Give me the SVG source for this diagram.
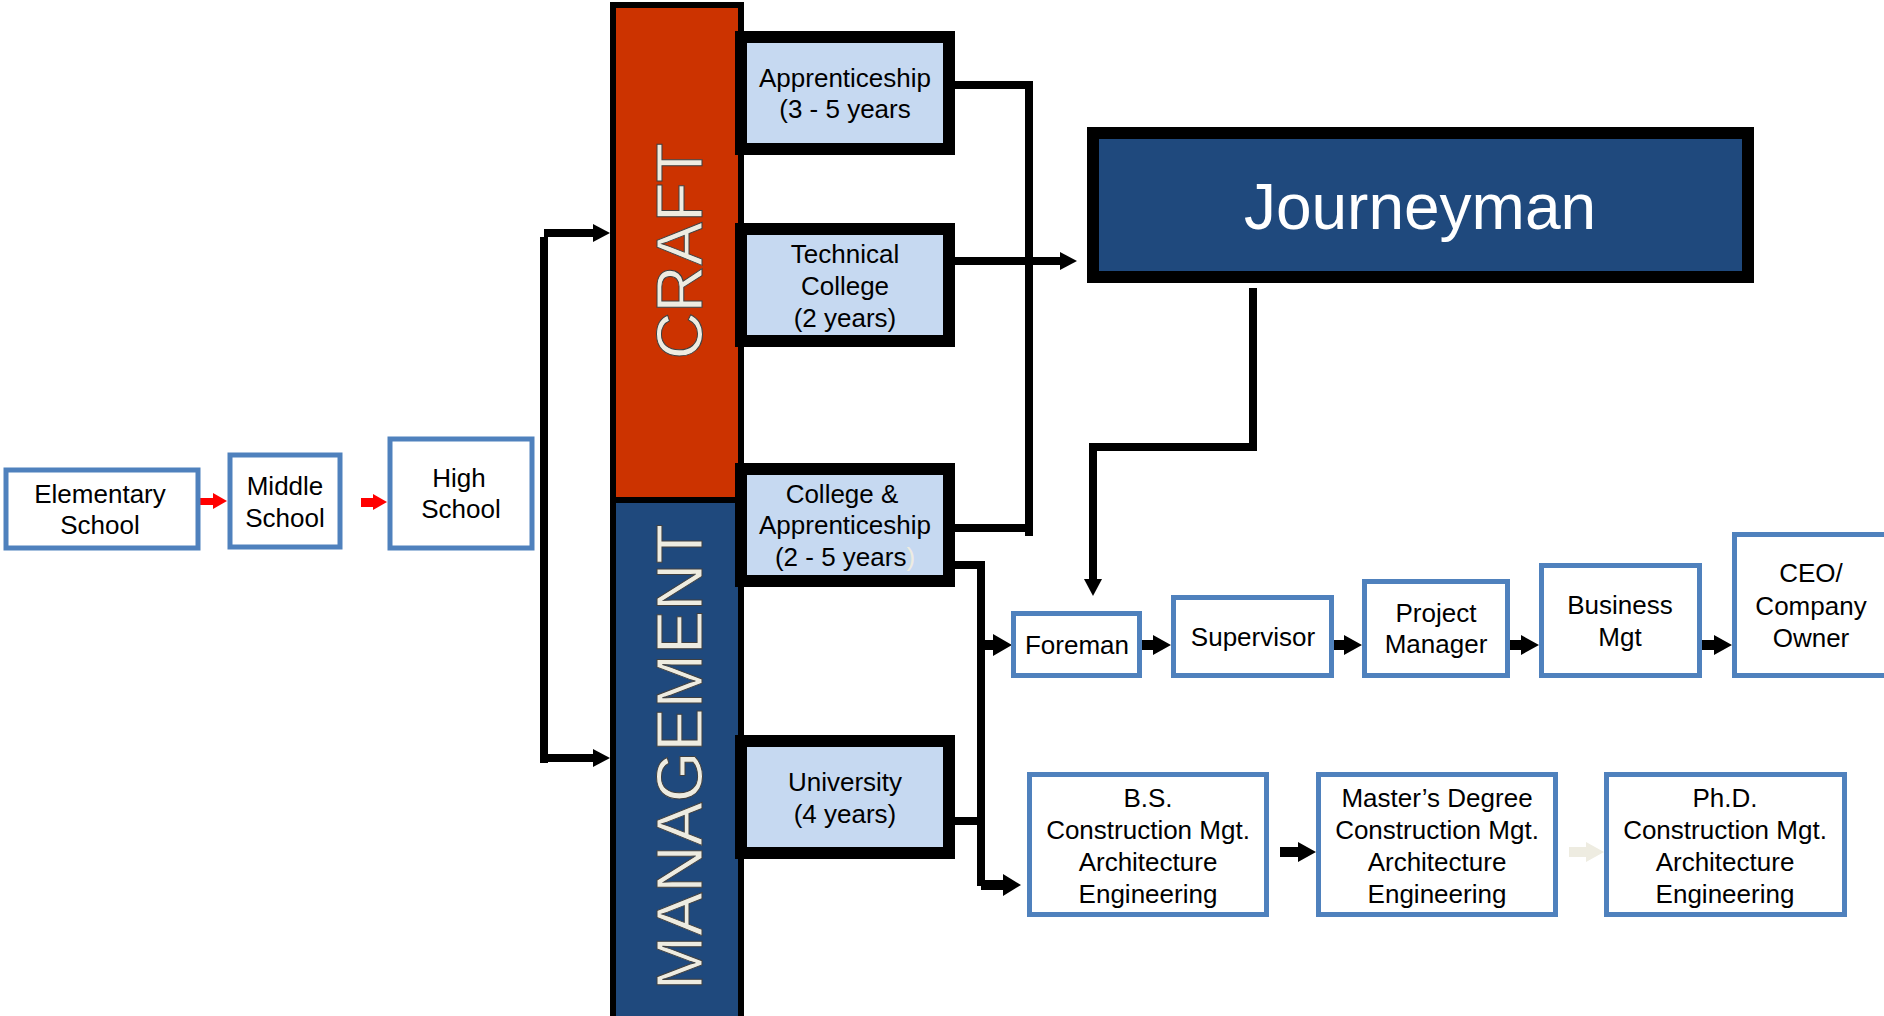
<svg xmlns="http://www.w3.org/2000/svg" width="1884" height="1016" viewBox="0 0 1884 1016">
<style>
text{font-family:"Liberation Sans",Arial,sans-serif;text-anchor:middle}
.t{font-size:26px;fill:#000}
.wb{fill:#fff;stroke:#4F81BD;stroke-width:5}
.lb{fill:#C6D9F1;stroke:#000;stroke-width:12}
.bar{stroke:#000;stroke-width:6}
.big{font-size:65px;fill:#EEECE1;stroke:#404040;stroke-width:1}
.ln{fill:none;stroke:#000;stroke-width:8}
.ah{fill:#000}
</style>
<rect width="1884" height="1016" fill="#fff"/>
<g id="connectors">
  <polygon fill="#FF0000" points="193,498 213,498 213,493 227,501 213,509 213,505 193,505"/>
  <polygon fill="#FF0000" points="361,498 373,498 373,494 387,502 373,510 373,507 361,507"/>
  <path class="ln" d="M544 237V763" stroke-width="10"/>
  <path class="ln" d="M544 233H594M544 758H594"/>
  <polygon class="ah" points="593,224 610,233 593,242"/>
  <polygon class="ah" points="593,749 610,758 593,767"/>
  <path class="ln" d="M955 85H1029V536M955 528H1033" stroke-width="9"/>
  <path class="ln" d="M955 261H1062"/>
  <polygon class="ah" points="1060,252 1077,261 1060,270"/>
  <path class="ln" d="M1253 288V447H1093V582"/>
  <polygon class="ah" points="1084,579 1093,596 1102,579"/>
  <path class="ln" d="M955 565H981V886M955 821H985"/>
  <polygon class="ah" points="977,640 993,640 993,634 1012,645 993,656 993,650 977,650"/>
  <polygon class="ah" points="981,880 1003,880 1003,874 1021,885 1003,896 1003,890 981,890"/>
  <polygon class="ah" points="1140,640 1153,640 1153,635 1171,645 1153,655 1153,650 1140,650"/>
  <polygon class="ah" points="1332,640 1344,640 1344,635 1362,645 1344,655 1344,650 1332,650"/>
  <polygon class="ah" points="1508,640 1521,640 1521,635 1539,645 1521,655 1521,650 1508,650"/>
  <polygon class="ah" points="1700,640 1714,640 1714,635 1732,645 1714,655 1714,650 1700,650"/>
  <polygon class="ah" points="1280,847 1298,847 1298,842 1316,852 1298,862 1298,857 1280,857"/>
  <polygon fill="#EEECE1" points="1569,847 1586,847 1586,842 1604,852 1586,862 1586,857 1569,857"/>
</g>
<g id="elementary"><rect class="wb" x="6" y="470" width="192" height="78"/><text class="t" x="100" y="503">Elementary</text><text class="t" x="100" y="534">School</text></g>
<g id="middle"><rect class="wb" x="230" y="455" width="110" height="92"/><text class="t" x="285" y="495">Middle</text><text class="t" x="285" y="527">School</text></g>
<g id="high"><rect class="wb" x="390" y="439" width="142" height="109"/><text class="t" x="459" y="487">High</text><text class="t" x="461" y="518">School</text></g>
<g id="craft"><rect class="bar" x="613" y="5" width="128" height="495" fill="#CC3300"/><text class="big" transform="translate(702,251) rotate(-90)">CRAFT</text></g>
<g id="management"><rect class="bar" x="613" y="500" width="128" height="530" fill="#1F497D"/><text class="big" transform="translate(702,757) rotate(-90)">MANAGEMENT</text></g>
<g id="apprenticeship"><rect class="lb" x="741" y="37" width="208" height="112"/><text class="t" x="845" y="87">Apprenticeship</text><text class="t" x="845" y="118">(3 - 5 years</text></g>
<g id="technical"><rect class="lb" x="741" y="229" width="208" height="112"/><text class="t" x="845" y="263">Technical</text><text class="t" x="845" y="295">College</text><text class="t" x="845" y="327">(2 years)</text></g>
<g id="college-app"><rect class="lb" x="741" y="469" width="208" height="112"/><text class="t" x="842" y="503">College &amp;</text><text class="t" x="845" y="534">Apprenticeship</text><text class="t" x="845" y="566">(2 - 5 years<tspan fill="#EEECE1">)</tspan></text></g>
<g id="university"><rect class="lb" x="741" y="741" width="208" height="112"/><text class="t" x="845" y="791">University</text><text class="t" x="845" y="823">(4 years)</text></g>
<g id="journeyman"><rect x="1093" y="133" width="655" height="144" fill="#1F497D" stroke="#000" stroke-width="12"/><text x="1420" y="229" font-size="64" fill="#fff">Journeyman</text></g>
<g id="foreman"><rect class="wb" x="1013.5" y="613.5" width="126" height="62"/><text class="t" x="1077" y="654">Foreman</text></g>
<g id="supervisor"><rect class="wb" x="1173.5" y="597.5" width="158" height="78"/><text class="t" x="1253" y="646">Supervisor</text></g>
<g id="pm"><rect class="wb" x="1364.5" y="581.5" width="143" height="94"/><text class="t" x="1436" y="622">Project</text><text class="t" x="1436" y="653">Manager</text></g>
<g id="business"><rect class="wb" x="1541.5" y="565.5" width="158" height="110"/><text class="t" x="1620" y="614">Business</text><text class="t" x="1620" y="646">Mgt</text></g>
<g id="ceo"><rect class="wb" x="1734.5" y="534.5" width="200" height="141"/><text class="t" x="1811" y="582">CEO/</text><text class="t" x="1811" y="615">Company</text><text class="t" x="1811" y="647">Owner</text></g>
<g id="bs"><rect class="wb" x="1029.5" y="774.5" width="237" height="140"/><text class="t" x="1148" y="807">B.S.</text><text class="t" x="1148" y="839">Construction Mgt.</text><text class="t" x="1148" y="871">Architecture</text><text class="t" x="1148" y="903">Engineering</text></g>
<g id="masters"><rect class="wb" x="1318.5" y="774.5" width="237" height="140"/><text class="t" x="1437" y="807">Master’s Degree</text><text class="t" x="1437" y="839">Construction Mgt.</text><text class="t" x="1437" y="871">Architecture</text><text class="t" x="1437" y="903">Engineering</text></g>
<g id="phd"><rect class="wb" x="1606.5" y="774.5" width="238" height="140"/><text class="t" x="1725" y="807">Ph.D.</text><text class="t" x="1725" y="839">Construction Mgt.</text><text class="t" x="1725" y="871">Architecture</text><text class="t" x="1725" y="903">Engineering</text></g>
</svg>
